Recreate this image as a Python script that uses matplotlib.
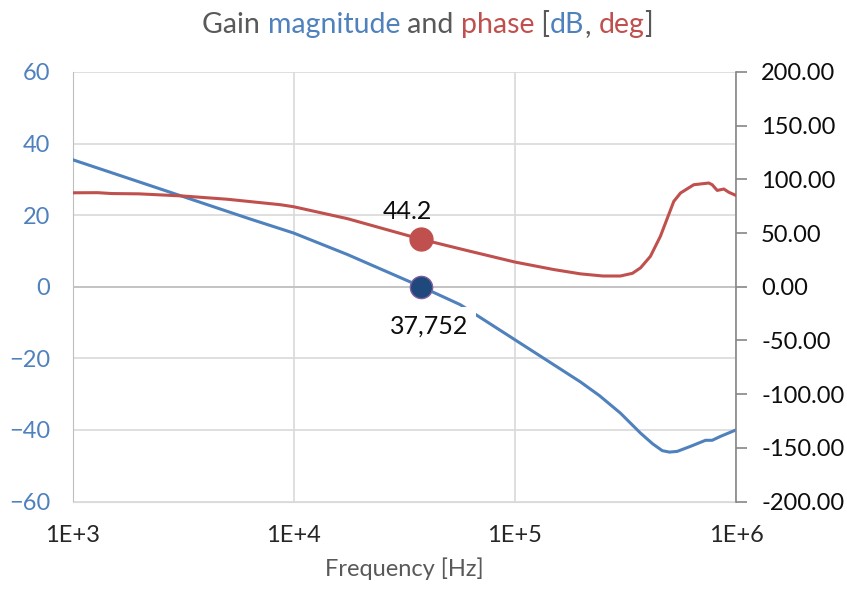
import numpy as np
import matplotlib
matplotlib.use('Agg')
import matplotlib.pyplot as plt
from matplotlib.offsetbox import TextArea, HPacker, AnchoredOffsetbox
from matplotlib.ticker import FixedLocator, FuncFormatter

plt.rcParams['font.family'] = ['Lato', 'DejaVu Sans']

# gain magnitude [dB]
gain_freq = [1e3, 2e3, 3.16e3, 6.3e3, 1e4, 1.75e4, 37752, 5.66e4, 6.9e4, 1e5,
             1.5e5, 1.98e5, 2.41e5, 3.0e5, 3.7e5, 4.2e5, 4.64e5, 5.0e5, 5.42e5,
             6.22e5, 7.28e5, 7.8e5, 8.51e5, 1e6]
gain_db = [35.5, 29.3, 25.2, 19.0, 15.0, 9.0, 0.0, -5.0, -8.4, -14.8,
           -21.8, -26.6, -30.4, -35.3, -40.9, -43.9, -45.8, -46.2, -46.0,
           -44.6, -42.9, -42.9, -41.8, -40.0]

# phase [deg]
phase_freq = [1e3, 1.3e3, 1.5e3, 2e3, 3.16e3, 5e3, 8.7e3, 1e4, 1.75e4, 37752,
              6e4, 1e5, 1.5e5, 1.98e5, 2.5e5, 3.0e5, 3.4e5, 3.7e5, 4.1e5,
              4.55e5, 5.23e5, 5.61e5, 6.44e5, 7.53e5, 7.8e5, 8.22e5, 8.81e5,
              9.27e5, 1e6]
phase_deg = [87.5, 87.6, 86.8, 86.5, 84.5, 81.5, 76.4, 74.5, 63.4, 44.2,
             34.0, 23.0, 16.0, 12.0, 10.0, 10.0, 12.5, 17.6, 28.3,
             47.0, 79.5, 87.3, 95.0, 96.6, 95.0, 89.7, 91.0,
             88.0, 85.0]

cross_freq = 37752
cross_gain = 0.0
cross_phase = 44.2

blue = '#4F81BD'
red = '#C0504D'
gray_txt = '#595959'
grid_c = '#D9D9D9'

fig = plt.figure(figsize=(8.47, 5.90), dpi=100)
ax1 = fig.add_axes([0.0856, 0.150, 0.869 - 0.0856, 0.878 - 0.150])
ax2 = ax1.twinx()

ax1.plot(gain_freq, gain_db, color=blue, linewidth=2.2, zorder=3)
ax1.plot([cross_freq], [cross_gain], 'o', markersize=16, color='#1F497D',
         markeredgecolor='#7F5FA0', markeredgewidth=1, zorder=5)
ax2.plot(phase_freq, phase_deg, color=red, linewidth=2.2, zorder=3)
ax2.plot([cross_freq], [cross_phase], 'o', markersize=16.5, color=red,
         markeredgecolor=red, zorder=5)

ax1.set_xscale('log')
ax1.set_xlim(1e3, 1e6)
ax1.set_ylim(-60, 60)
ax2.set_ylim(-200, 200)

ax1.xaxis.set_major_locator(FixedLocator([1e3, 1e4, 1e5, 1e6]))
ax1.xaxis.set_minor_locator(FixedLocator([]))
ax1.xaxis.set_major_formatter(FuncFormatter(lambda v, p: '1E+%d' % round(np.log10(v))))
ax1.set_yticks(np.arange(-60, 61, 20))
ax2.set_yticks(np.arange(-200, 201, 50))
ax2.yaxis.set_major_formatter(FuncFormatter(lambda v, p: '%.2f' % v))

ax1.grid(True, which='major', color=grid_c, linewidth=1.2)
ax1.axhline(0, color='#BFBFBF', linewidth=1.2, zorder=1)
ax1.set_axisbelow(True)

ax1.tick_params(axis='y', length=0, pad=16, labelsize=17, labelcolor=blue)
ax1.tick_params(axis='x', length=0, pad=17, labelsize=17, labelcolor='#262626')
ax2.tick_params(axis='y', length=8, width=1.2, color='#868686', direction='out',
                pad=10, labelsize=17, labelcolor='#0D0D0D')

for side in ['top']:
    ax1.spines[side].set_visible(False)
    ax2.spines[side].set_visible(False)
ax1.spines['left'].set_color('#BFBFBF')
ax1.spines['bottom'].set_color(grid_c)
ax1.spines['right'].set_visible(False)
ax2.spines['left'].set_visible(False)
ax2.spines['bottom'].set_visible(False)
ax2.spines['right'].set_color('#868686')
ax2.spines['right'].set_linewidth(1.2)

ax1.set_xlabel('Frequency [Hz]', fontsize=17, color=gray_txt, labelpad=8)

# data labels
ax2.annotate('44.2', (cross_freq, cross_phase), xytext=(-10, 20),
             textcoords='offset points', ha='center', va='center',
             fontsize=18, color='#0D0D0D')
ax1.annotate('37,752', (cross_freq, cross_gain), xytext=(6, -28),
             textcoords='offset points', ha='center', va='center',
             fontsize=18, color='#0D0D0D', zorder=6,
             bbox=dict(boxstyle='square,pad=0.3', fc='white', ec='none'))
ax2.set_zorder(ax1.get_zorder() + 1)
ax2.patch.set_visible(False)

# multi-coloured title
parts = [('Gain ', gray_txt), ('magnitude', blue), (' and ', gray_txt),
         ('phase', red), (' [', gray_txt), ('dB', blue), (', ', gray_txt),
         ('deg', red), (']', gray_txt)]
boxes = [TextArea(t, textprops=dict(color=c, fontsize=20.5)) for t, c in parts]
title = HPacker(children=boxes, align='baseline', pad=0, sep=0)
anch = AnchoredOffsetbox(loc='upper center', child=title, frameon=False,
                         bbox_to_anchor=(0.505, 0.995), bbox_transform=fig.transFigure,
                         borderpad=0.2)
fig.add_artist(anch)

fig.savefig('out.png', dpi=100)
